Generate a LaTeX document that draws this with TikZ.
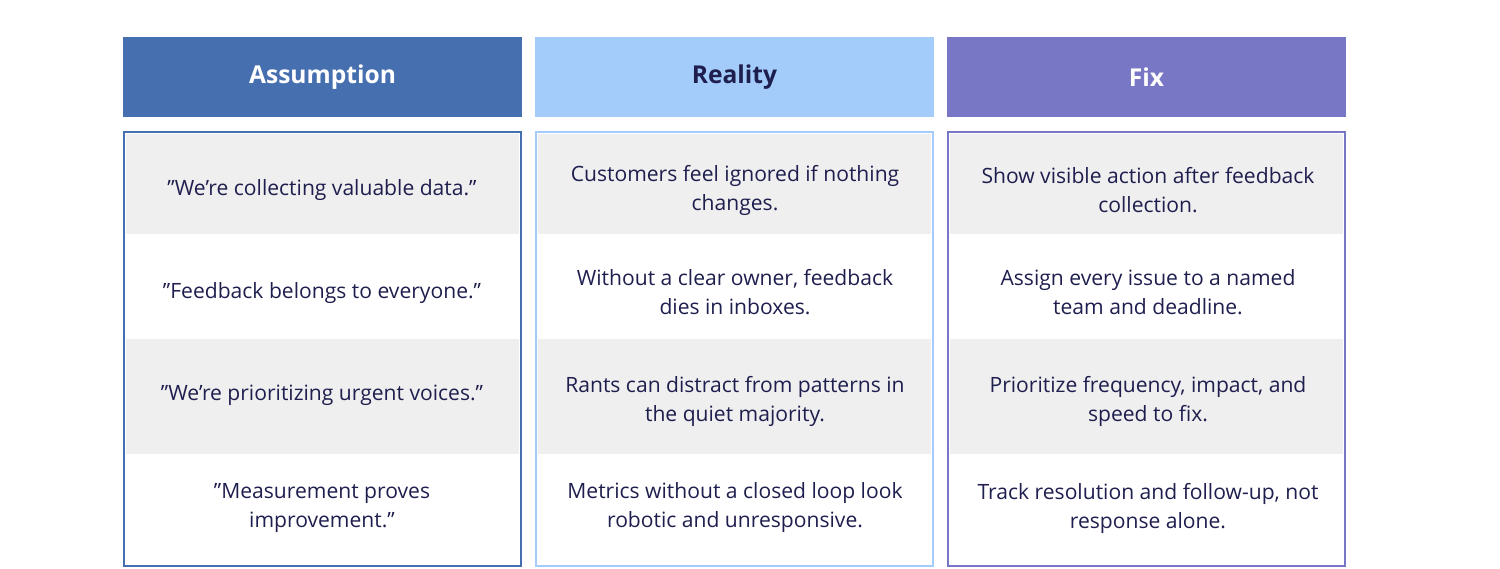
\documentclass[tikz,border=0pt]{standalone}
\usepackage{fontspec}
\setmainfont{Open Sans}
\definecolor{cA}{HTML}{466FB0}
\definecolor{cR}{HTML}{A3CCFB}
\definecolor{cF}{HTML}{7877C5}
\definecolor{txt}{HTML}{1F1F4F}
\definecolor{gr}{HTML}{EFEFEF}
\begin{document}
\begin{tikzpicture}[x=0.02cm,y=-0.02cm,
 hdr/.style={font=\bfseries\fontsize{14}{17}\selectfont, anchor=center},
 cell/.style={font=\fontsize{12}{16.5}\selectfont, text=txt, align=center, anchor=center}]
\useasboundingbox (0,0) rectangle (1500,568);
\foreach \x/\c/\t/\tc/\n in {123/cA/Assumption/white/a,535/cR/Reality/txt/r,947/cF/Fix/white/f}{
  \fill[\c] (\x,37) rectangle (\x+399,117);
  \node[hdr,text=\tc] (h\n) at (\x+199.5,77) {\t};
  \fill[gr] (\x+3,134) rectangle (\x+396,234);
  \fill[gr] (\x+3,339) rectangle (\x+396,454);
  \draw[\c,line width=1.2pt] (\x+1,132) rectangle (\x+398,566);
}
\node[cell] (a1) at (322,190) {"We're collecting valuable data."};
\node[cell] (a2) at (322,293) {"Feedback belongs to everyone."};
\node[cell] (a3) at (322,395) {"We're prioritizing urgent voices."};
\node[cell] (a4) at (322,508) {"Measurement proves\\improvement."};
\node[cell] (r1) at (735,190) {Customers feel ignored if nothing\\changes.};
\node[cell] (r2) at (735,292) {Without a clear owner, feedback\\dies in inboxes.};
\node[cell] (r3) at (735,401) {Rants can distract from patterns in\\the quiet majority.};
\node[cell] (r4) at (735,508) {Metrics without a closed loop look\\robotic and unresponsive.};
\node[cell] (f1) at (1148,190) {Show visible action after feedback\\collection.};
\node[cell] (f2) at (1148,292) {Assign every issue to a named\\team and deadline.};
\node[cell] (f3) at (1148,401) {Prioritize frequency, impact, and\\speed to fix.};
\node[cell] (f4) at (1148,508) {Track resolution and follow-up, not\\response alone.};
\end{tikzpicture}
\end{document}
